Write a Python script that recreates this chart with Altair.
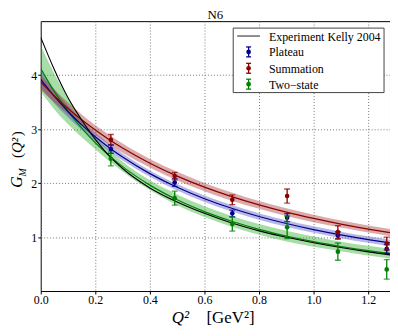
import altair as alt
import pandas as pd

# ---------------- data ----------------
q_data = [0.257, 0.491, 0.702, 0.903, 1.089, 1.268]
plateau = [2.63, 2.01, 1.44, 1.36, 1.03, 0.78]
plateau_err = [0.08, 0.07, 0.06, 0.075, 0.07, 0.08]
summation = [2.80, 2.13, 1.69, 1.76, 1.09, 0.88]
summation_err = [0.10, 0.07, 0.09, 0.13, 0.12, 0.12]
twostate = [2.45, 1.72, 1.24, 1.18, 0.73, 0.40]
twostate_err = [0.13, 0.13, 0.13, 0.21, 0.16, 0.18]

q_fit = [0.0, 0.05, 0.1, 0.15, 0.2, 0.25, 0.3, 0.4, 0.5, 0.6, 0.7, 0.8, 0.9, 1.0, 1.1, 1.2, 1.28]
kelly = [4.70, 4.10, 3.58, 3.17, 2.81, 2.51, 2.27, 1.91, 1.65, 1.44, 1.26, 1.115, 0.995, 0.895, 0.805, 0.725, 0.67]
plateau_fit = [3.92, 3.605, 3.326, 3.079, 2.858, 2.660, 2.482, 2.175, 1.922, 1.711, 1.533, 1.381, 1.251, 1.138, 1.040, 0.954, 0.892]
plateau_band = [0.16, 0.13, 0.11, 0.09, 0.08, 0.07, 0.065, 0.06, 0.06, 0.06, 0.06, 0.06, 0.06, 0.06, 0.06, 0.06, 0.06]
summation_fit = [3.87, 3.614, 3.383, 3.172, 2.982, 2.807, 2.648, 2.367, 2.129, 1.925, 1.749, 1.596, 1.462, 1.345, 1.241, 1.148, 1.082]
summation_band = [0.14, 0.12, 0.11, 0.10, 0.09, 0.09, 0.085, 0.08, 0.08, 0.075, 0.075, 0.07, 0.07, 0.07, 0.065, 0.065, 0.065]
twostate_fit = [4.12, 3.694, 3.330, 3.018, 2.747, 2.512, 2.305, 1.962, 1.690, 1.471, 1.292, 1.143, 1.019, 0.914, 0.825, 0.748, 0.694]
twostate_band = [0.43, 0.33, 0.24, 0.17, 0.12, 0.10, 0.09, 0.09, 0.10, 0.10, 0.10, 0.10, 0.10, 0.095, 0.09, 0.09, 0.09]

series = ["Plateau", "Summation", "Two\u2212state"]
kelly_label = "Experiment Kelly 2004"
title_text = "N6"
x_ticks = [0.0, 0.2, 0.4, 0.6, 0.8, 1.0, 1.2]
y_ticks = [1, 2, 3, 4]

# ---------------- styles ----------------
line_col = {"Plateau": "#00008b", "Summation": "#8b0000", "Two\u2212state": "#008000"}
band_col = {"Plateau": "#3333bb", "Summation": "#a52a2a", "Two\u2212state": "#22aa22"}
band_op = {"Plateau": 0.35, "Summation": 0.4, "Two\u2212state": 0.4}
FONT = "Liberation Serif"
W, H = 352, 272

# ---------------- tables ----------------
pts_rows = []
for name, vals, errs in [(series[0], plateau, plateau_err),
                         (series[1], summation, summation_err),
                         (series[2], twostate, twostate_err)]:
    for q, v, e in zip(q_data, vals, errs):
        pts_rows.append({"s": name, "q": q, "v": v, "lo": v - e, "hi": v + e})
pts = pd.DataFrame(pts_rows)

fit_rows = []
for name, vals, bw in [(series[0], plateau_fit, plateau_band),
                       (series[1], summation_fit, summation_band),
                       (series[2], twostate_fit, twostate_band)]:
    for q, v, b in zip(q_fit, vals, bw):
        fit_rows.append({"s": name, "q": q, "v": v, "lo": v - b, "hi": v + b})
fits = pd.DataFrame(fit_rows)
kel = pd.DataFrame({"q": q_fit, "v": kelly})

xscale = alt.Scale(domain=[0, 1.28], nice=False, zero=False)
yscale = alt.Scale(domain=[0, 5], nice=False, zero=False)
xaxis = alt.Axis(values=x_ticks, format=".1f", title=None, grid=True, gridDash=[1, 2],
                 gridColor="#777", gridOpacity=1, labelFont=FONT, labelFontSize=12,
                 labelColor="black", tickColor="black", tickSize=3, labelPadding=1,
                 domain=False, labelFlush=False, labelOverlap=False)
yaxis = alt.Axis(values=y_ticks, format="d", title=None, grid=True, gridDash=[1, 2],
                 gridColor="#777", gridOpacity=1, labelFont=FONT, labelFontSize=12,
                 labelColor="black", tickColor="black", tickSize=3, labelPadding=1,
                 domain=False, labelFlush=False, labelOverlap=False)

def X(f="q"):
    return alt.X(f"{f}:Q", scale=xscale, axis=xaxis)

def Y(f):
    return alt.Y(f"{f}:Q", scale=yscale, axis=yaxis)

layers = []
for name in [series[2], series[0], series[1]]:
    d = fits[fits.s == name]
    layers.append(alt.Chart(d).mark_area(color=band_col[name], opacity=band_op[name],
                                         interpolate="monotone", clip=True)
                  .encode(x=X(), y=Y("lo"), y2="hi:Q"))
for name in [series[2], series[0], series[1]]:
    d = fits[fits.s == name]
    layers.append(alt.Chart(d).mark_line(color=line_col[name], strokeWidth=1.2,
                                         interpolate="monotone", clip=True)
                  .encode(x=X(), y=Y("v")))
layers.append(alt.Chart(kel).mark_line(color="black", strokeWidth=1.1,
                                       interpolate="monotone", clip=True)
              .encode(x=X(), y=Y("v")))
for name in series:
    d = pts[pts.s == name]
    c = line_col[name]
    layers.append(alt.Chart(d).mark_rule(color=c, strokeWidth=1.3, clip=True)
                  .encode(x=X(), y=Y("lo"), y2="hi:Q"))
    for f in ["lo", "hi"]:
        layers.append(alt.Chart(d).mark_tick(color=c, orient="horizontal", size=6,
                                             thickness=1.3, clip=True)
                      .encode(x=X(), y=Y(f)))
    layers.append(alt.Chart(d).mark_point(color=c, filled=True, opacity=1, size=22,
                                          shape="circle", clip=True)
                  .encode(x=X(), y=Y("v")))

# ---------------- legend (layout in pixels) ----------------
one = alt.Data(values=[{}])
LX0, LX1, LY0, LY1 = 194, 346, 7, 72
row_y = [15, 31, 47.5, 63.5]
layers.append(alt.Chart(one).mark_rect(fill="white", stroke="#444", strokeWidth=1)
              .encode(x=alt.value(LX0), x2=alt.value(LX1), y=alt.value(LY0), y2=alt.value(LY1)))
layers.append(alt.Chart(one).mark_rule(color="#444", strokeWidth=1.2)
              .encode(x=alt.value(198), x2=alt.value(221), y=alt.value(row_y[0])))
labels = [kelly_label] + series
for i, lab in enumerate(labels):
    layers.append(alt.Chart(one).mark_text(text=lab, font=FONT, fontSize=12, align="left",
                                           baseline="middle", color="black")
                  .encode(x=alt.value(230), y=alt.value(row_y[i] + 0.5)))
for i, name in enumerate(series):
    yy = row_y[i + 1]
    c = line_col[name]
    layers.append(alt.Chart(one).mark_rule(color=c, strokeWidth=1.3)
                  .encode(x=alt.value(209.5), y=alt.value(yy - 5), y2=alt.value(yy + 5)))
    for dy in (-5, 5):
        layers.append(alt.Chart(one).mark_rule(color=c, strokeWidth=1.3)
                      .encode(x=alt.value(207), x2=alt.value(212), y=alt.value(yy + dy)))
    layers.append(alt.Chart(one).mark_point(color=c, filled=True, opacity=1, size=22, shape="circle")
                  .encode(x=alt.value(209.5), y=alt.value(yy)))

# ---------------- titles as text ----------------
def txt(t, x, y, size, italic=False, angle=0, align="left", baseline="alphabetic"):
    kw = dict(text=t, font=FONT, fontSize=size, align=align, baseline=baseline, color="black")
    if italic:
        kw["fontStyle"] = "italic"
    if angle:
        kw["angle"] = angle
    return alt.Chart(one).mark_text(**kw).encode(x=alt.value(x), y=alt.value(y))

layers.append(txt(title_text, 176, -2.5, 13, align="center"))
layers.append(txt("Q\u00b2", 132, 304, 17, italic=True))
layers.append(txt("[GeV\u00b2]", 167, 304, 17))
layers.append(txt("G", -18.5, 168, 16, italic=True, angle=270))
layers.append(txt("M", -15, 156.5, 10, italic=True, angle=270))
layers.append(txt("(", -18.5, 138, 15, angle=270))
layers.append(txt("Q\u00b2", -18.5, 133, 15, italic=True, angle=270))
layers.append(txt(")", -18.5, 116, 15, angle=270))

chart = alt.layer(*layers).properties(
    width=W, height=H,
    autosize=alt.AutoSizeParams(type="none"),
    padding={"left": 33, "top": 12, "right": 0, "bottom": 36},
).configure_view(stroke="black", strokeWidth=1)

chart.save("out.html", embed_options={"renderer": "svg", "actions": False})
